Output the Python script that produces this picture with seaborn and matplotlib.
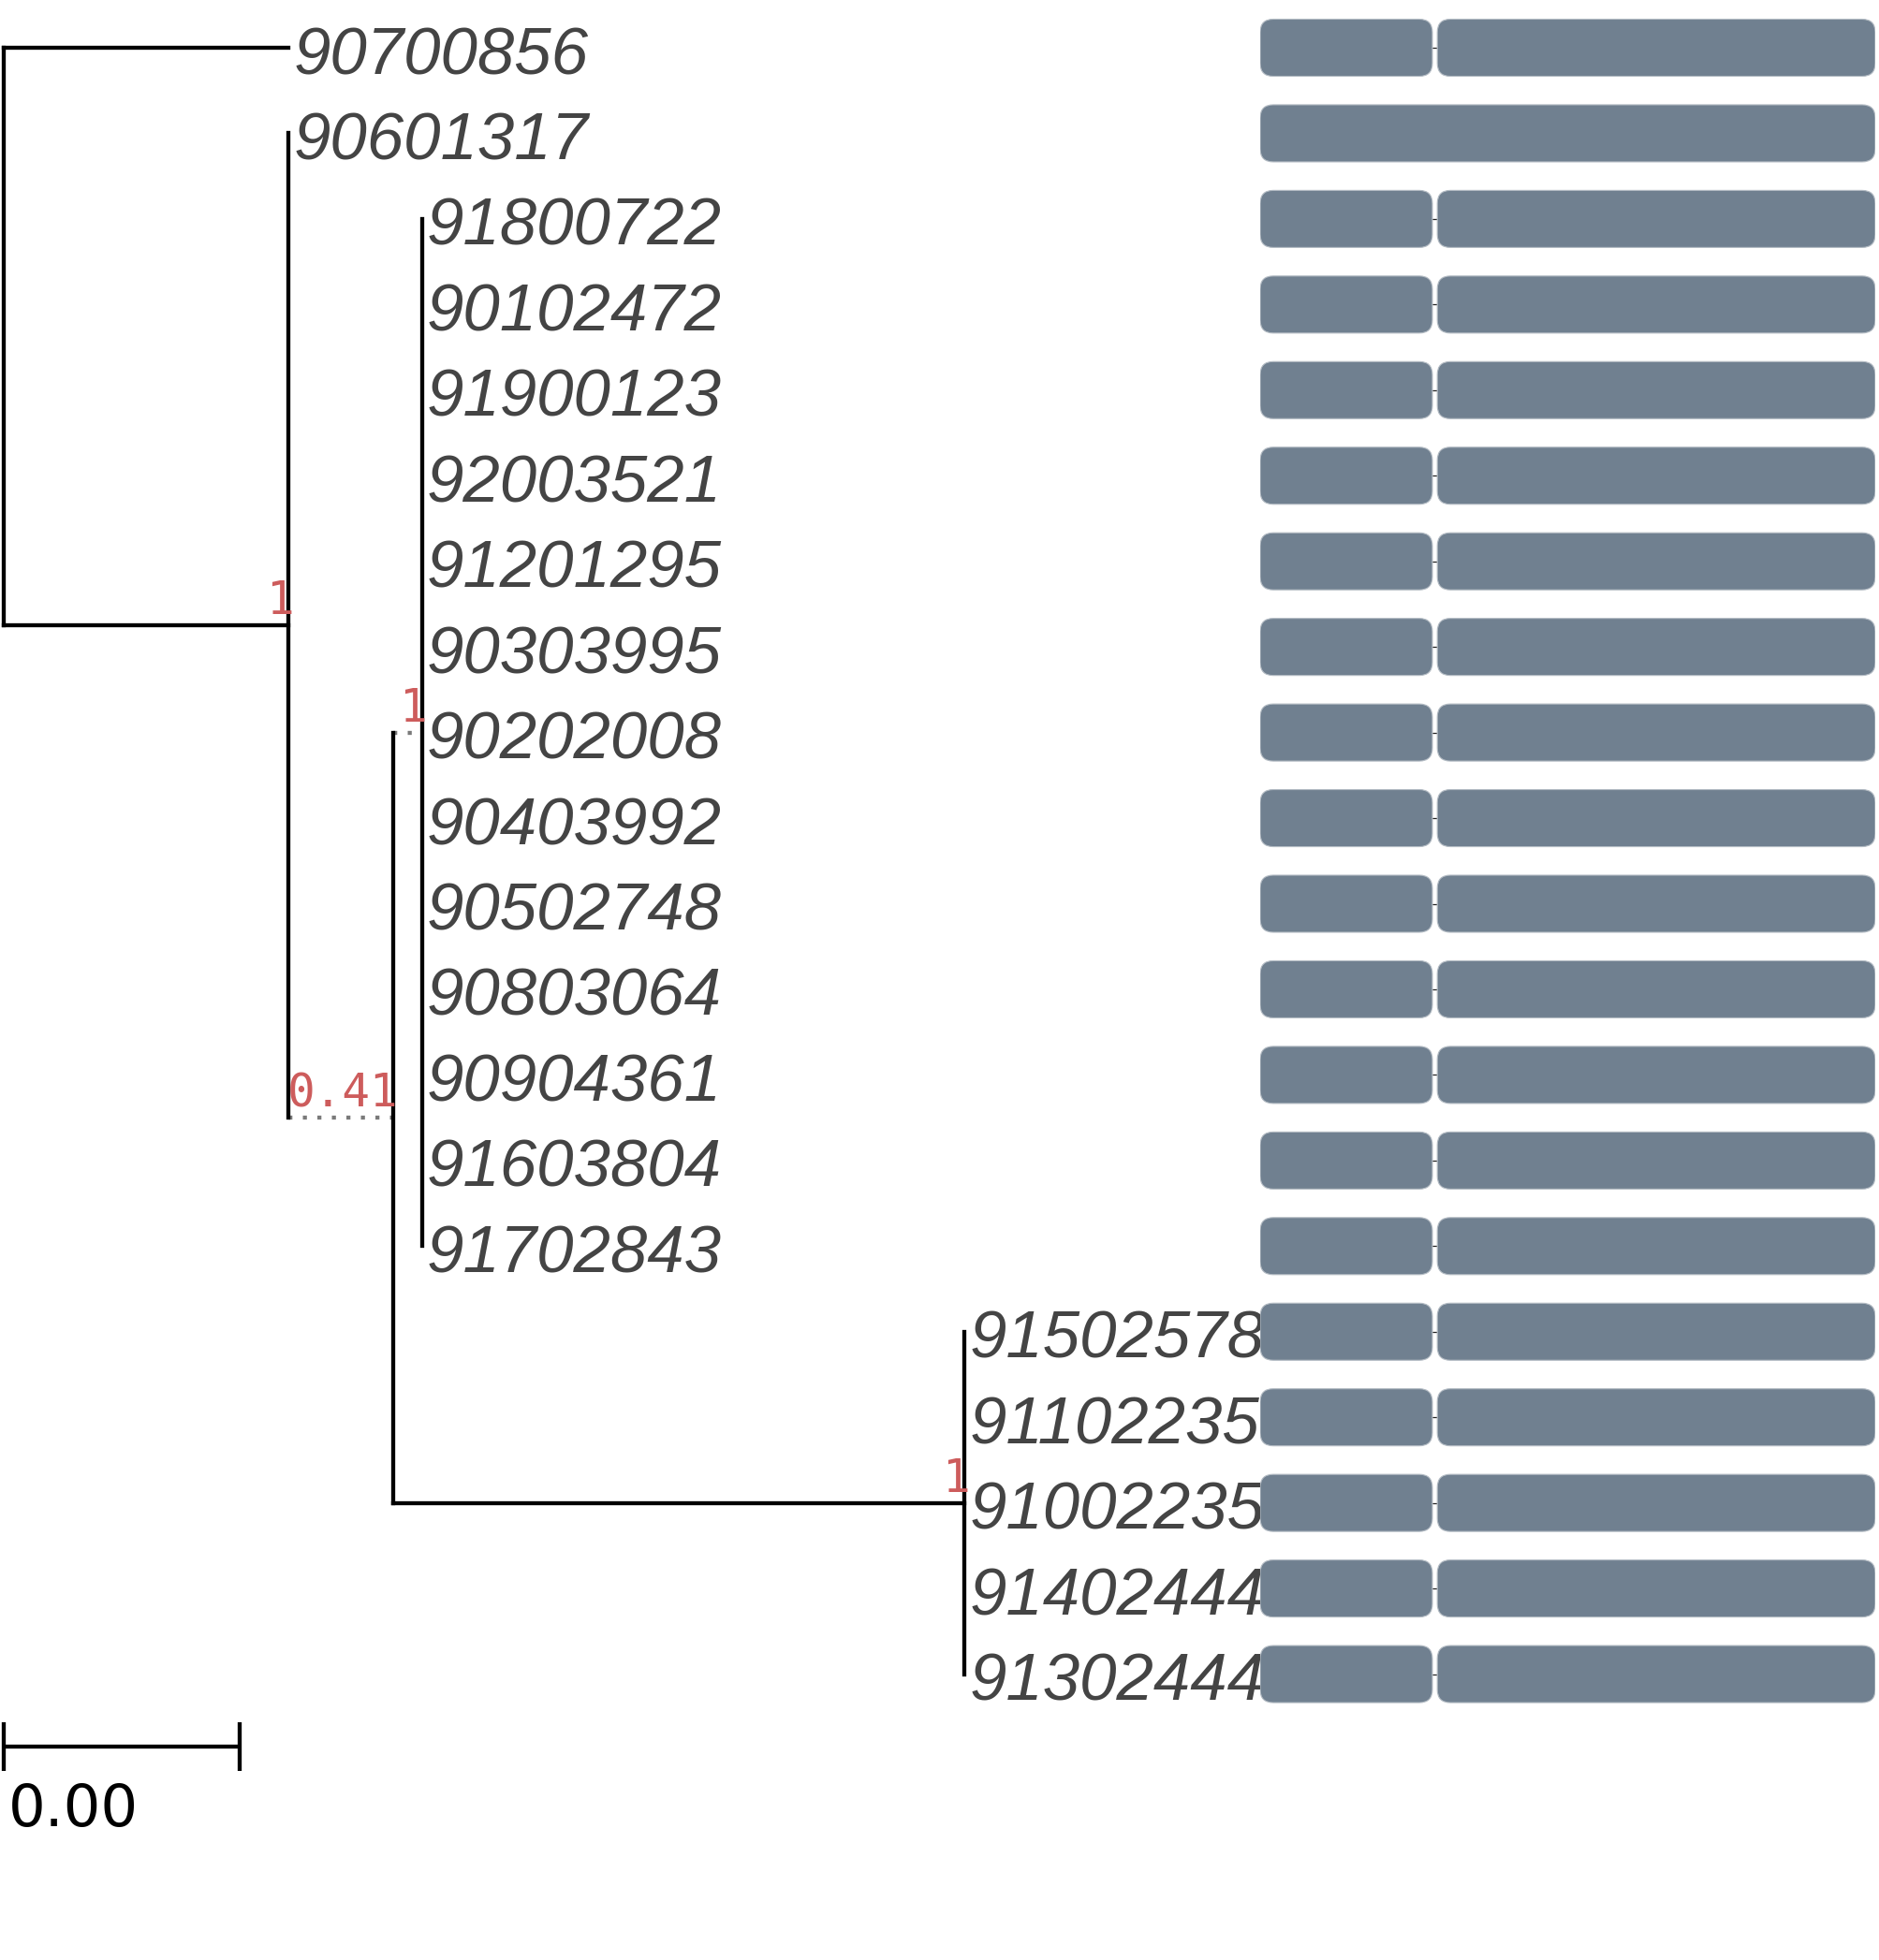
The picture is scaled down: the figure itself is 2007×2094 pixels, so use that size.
import matplotlib
matplotlib.use("Agg")
import matplotlib.pyplot as plt
import matplotlib.transforms as mtransforms
from matplotlib.patches import FancyBboxPatch
import numpy as np
import pandas as pd
import seaborn as sns

# ------------------------------------------------------------------ data
leaf_names = ["90700856", "90601317", "91800722", "90102472", "91900123",
              "92003521", "91201295", "90303995", "90202008", "90403992",
              "90502748", "90803064", "90904361", "91603804", "91702843",
              "91502578", "91102235", "91002235", "91402444", "91302444"]
leaf_parent = ["root", "A"] + ["D"] * 13 + ["E"] * 5
leaf_length = [0.00483, 0.0] + [0.0] * 13 + [0.0] * 5

node_names = ["root", "A", "C", "D", "E"]
node_parent = [None, "root", "A", "C", "C"]
node_length = [0.0, 0.00483, 0.00178, 0.00048, 0.00968]
node_support = [None, 1, 0.41, 1, 1]

scale_length = 0.004

# gene structure (exon a / exon b) per leaf, NaN = absent
exon_a_start = [0] * 20
exon_a_end = [280, 1000] + [280] * 18
exon_b_start = [288, np.nan] + [288] * 18
exon_b_end = [1000, np.nan] + [1000] * 18
gene_length = 1000

# ------------------------------------------------------------------ style
dotted_nodes = {"C", "D"}
W, H, DPI = 2007, 2094, 100
px_x0, px_per_unit = 4.0, 252.0 / scale_length
row0_px, row_px = 51.0, 91.45
bar_left_px, bar_right_px = 1346, 2003

sns.set_theme(style="white")
plt.rcParams["font.family"] = ["Liberation Sans", "DejaVu Sans"]

fig = plt.figure(figsize=(W / DPI, H / DPI), dpi=DPI)
ax = fig.add_axes([0, 0, 1, 1])
ax.set_xlim(-px_x0 / px_per_unit, (W - px_x0) / px_per_unit)
ax.set_ylim((H - row0_px) / row_px, -row0_px / row_px)

# ------------------------------------------------------------------ layout
children = {n: [] for n in node_names}
for n, p in zip(node_names, node_parent):
    if p is not None:
        children[p].append(("node", n))
for i, p in enumerate(leaf_parent):
    children[p].append(("leaf", i))

xpos = {}
def set_x(n, x):
    xpos[n] = x
    for kind, c in children[n]:
        if kind == "node":
            set_x(c, x + node_length[node_names.index(c)])
set_x("root", 0.0)
leaf_x = [xpos[p] + l for p, l in zip(leaf_parent, leaf_length)]

ypos = {}
def set_y(n):
    ys = []
    for kind, c in children[n]:
        ys.append(float(c) if kind == "leaf" else set_y(c))
    ys.sort()
    ypos[n] = (ys[0] + ys[-1]) / 2
    return ypos[n]
set_y("root")

def child_y(kind, c):
    return float(c) if kind == "leaf" else ypos[c]

rows = []
seg = 0
for n in node_names:
    ys = [child_y(k, c) for k, c in children[n]]
    rows += [(seg, xpos[n], min(ys), "solid"), (seg, xpos[n], max(ys), "solid")]
    seg += 1
for n, p in zip(node_names, node_parent):
    if p is None:
        continue
    st = "dotted" if n in dotted_nodes else "solid"
    rows += [(seg, xpos[p], ypos[n], st), (seg, xpos[n], ypos[n], st)]
    seg += 1
for i, (p, l) in enumerate(zip(leaf_parent, leaf_length)):
    if l > 0:
        rows += [(seg, xpos[p], i, "solid"), (seg, leaf_x[i], i, "solid")]
        seg += 1
edges = pd.DataFrame(rows, columns=["seg", "x", "y", "style"])

sns.lineplot(data=edges[edges["style"] == "dotted"], x="x", y="y", units="seg",
             estimator=None, sort=False, color="#7a7a7a", linewidth=3.1,
             linestyle=(0, (1, 2.6)), dash_capstyle="butt", legend=False,
             ax=ax, zorder=2)
sns.lineplot(data=edges[edges["style"] == "solid"], x="x", y="y", units="seg",
             estimator=None, sort=False, color="black", linewidth=3.1,
             solid_capstyle="projecting", legend=False, ax=ax, zorder=3)

# leaf labels
lab_tr = mtransforms.offset_copy(ax.transData, fig=fig, x=5, y=-28, units="dots")
for i, name in enumerate(leaf_names):
    ax.text(leaf_x[i], i, name, transform=lab_tr, fontsize=51.0, fontstyle="italic",
            family=["Liberation Sans", "DejaVu Sans"], color="#444444",
            ha="left", va="baseline", zorder=4)

# support values
sup_tr = mtransforms.offset_copy(ax.transData, fig=fig, x=5, y=12, units="dots")
for n, s in zip(node_names, node_support):
    if s is None:
        continue
    ax.text(xpos[n], ypos[n], f"{s:g}", transform=sup_tr, fontsize=35.5,
            family=["DejaVu Sans Mono"], color="#CD5C5C",
            ha="right", va="baseline", zorder=5)

# scale bar
yb = (1866 - row0_px) / row_px
tick = 26 / row_px
ax.plot([0, scale_length], [yb, yb], color="black", lw=3.1, solid_capstyle="butt")
for xv in (0, scale_length):
    ax.plot([xv, xv], [yb - tick, yb + tick], color="black", lw=3.1,
            solid_capstyle="butt")
sb_tr = mtransforms.offset_copy(ax.transData, fig=fig, x=5, y=-38, units="dots")
ax.text(0, yb, f"{scale_length:.2f}", transform=sb_tr, fontsize=45,
        family=["DejaVu Sans"], color="black", ha="left", va="top")
ax.axis("off")

# ------------------------------------------------------------------ gene bars
ax2 = fig.add_axes([bar_left_px / W, 0, (bar_right_px - bar_left_px) / W, 1],
                   sharey=ax)
ax2.set_xlim(0, gene_length)
ax2.axis("off")
ax2.patch.set_alpha(0)
fig.canvas.draw()
p0 = ax2.transData.transform((0, 0))
p1 = ax2.transData.transform((1, 1))
px_per_x = abs(p1[0] - p0[0])
px_per_y = abs(p1[1] - p0[1])
m_aspect = px_per_x / px_per_y
r_data = 14 / px_per_x
bar_h = 61 / px_per_y

for i in range(len(leaf_names)):
    segs = [(exon_a_start[i], exon_a_end[i]), (exon_b_start[i], exon_b_end[i])]
    segs = [(a, b) for a, b in segs if not (np.isnan(a) or np.isnan(b))]
    for (a1, b1), (a2, b2) in zip(segs[:-1], segs[1:]):
        ax2.plot([b1, a2], [i, i], color="#222222", lw=0.9, zorder=1)
    for a, b in segs:
        box = FancyBboxPatch((a, i - bar_h / 2), b - a, bar_h,
                             boxstyle=f"round,pad=0,rounding_size={r_data}",
                             mutation_aspect=m_aspect, facecolor="#708090",
                             edgecolor="#b4bcc4", lw=0.8, zorder=2)
        ax2.add_patch(box)

fig.savefig("out.png", dpi=DPI, facecolor="white")
